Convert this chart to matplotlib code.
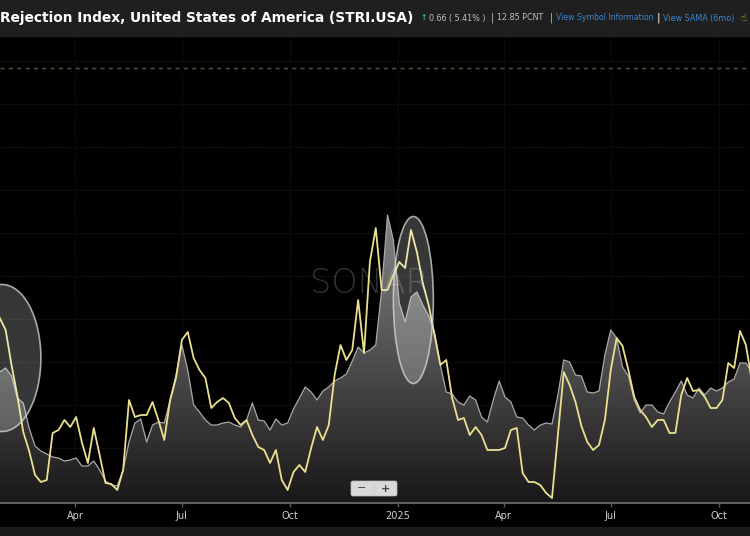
import numpy as np
import pandas as pd
import matplotlib
matplotlib.use('Agg')
import matplotlib.pyplot as plt
import matplotlib.dates as mdates
from matplotlib.patches import Ellipse, Rectangle, FancyBboxPatch
from matplotlib.colors import LinearSegmentedColormap

dates = pd.date_range('2024-01-28', periods=129, freq='5D')

stri = [18.5, 17.3, 13.8, 10.7, 7.1, 5.2, 2.8, 2.1, 2.3, 7.0,
        7.3, 8.3, 7.6, 8.6, 6.0, 4.0, 7.5, 4.8, 2.0, 1.9,
        1.3, 3.3, 10.3, 8.6, 8.8, 8.8, 10.1, 8.3, 6.3, 10.3,
        12.5, 16.3, 17.1, 14.5, 13.3, 12.5, 9.5, 10.1, 10.5, 10.0,
        8.5, 7.8, 8.3, 6.8, 5.6, 5.3, 4.0, 5.3, 2.3, 1.3,
        3.1, 3.8, 3.1, 5.5, 7.6, 6.3, 7.8, 12.8, 15.8, 14.3,
        15.3, 20.3, 15.0, 24.1, 27.5, 21.3, 21.3, 22.8, 24.1, 23.5,
        27.3, 25.1, 22.0, 19.8, 16.8, 13.8, 14.3, 10.5, 8.3, 8.5,
        6.8, 7.6, 6.8, 5.3, 5.3, 5.3, 5.5, 7.3, 7.5, 3.0,
        2.1, 2.1, 1.8, 1.0, 0.5, 6.8, 13.1, 11.8, 10.1, 7.7,
        6.1, 5.3, 5.8, 8.3, 13.3, 16.5, 15.7, 13.3, 10.6, 9.3,
        8.6, 7.6, 8.3, 8.3, 7.0, 7.0, 10.8, 12.5, 11.2, 11.3,
        10.6, 9.5, 9.5, 10.3, 14.0, 13.5, 17.2, 15.8, 12.3]

sama = [13.1, 13.5, 12.7, 10.5, 10.0, 7.5, 5.7, 5.2, 4.9, 4.6,
        4.5, 4.2, 4.3, 4.5, 3.7, 3.7, 4.2, 3.3, 2.2, 1.8,
        1.7, 3.3, 6.1, 8.0, 8.4, 6.1, 7.8, 8.1, 8.0, 10.3,
        12.8, 15.8, 13.3, 9.8, 9.1, 8.3, 7.8, 7.8, 8.0, 8.1,
        7.8, 7.6, 8.3, 10.0, 8.3, 8.2, 7.3, 8.4, 7.8, 8.0,
        9.4, 10.5, 11.6, 11.1, 10.3, 11.2, 11.6, 12.2, 12.5, 12.9,
        14.2, 15.6, 15.0, 15.3, 15.8, 21.3, 28.8, 26.3, 20.0, 18.1,
        20.6, 21.1, 19.8, 18.7, 17.1, 13.8, 11.1, 10.9, 10.1, 9.8,
        10.7, 10.3, 8.6, 8.1, 10.3, 12.2, 10.6, 10.1, 8.6, 8.5,
        7.8, 7.3, 7.8, 8.0, 7.9, 10.8, 14.3, 14.1, 12.8, 12.7,
        11.1, 11.0, 11.2, 14.8, 17.3, 16.5, 13.6, 12.7, 10.3, 9.0,
        9.8, 9.8, 9.1, 8.9, 10.1, 11.1, 12.2, 10.8, 10.5, 11.5,
        10.8, 11.5, 11.2, 11.5, 12.1, 12.4, 14.0, 14.0, 13.1]

tick_dates = ['2024-04-01', '2024-07-01', '2024-10-01', '2025-01-01',
              '2025-04-01', '2025-07-01', '2025-10-01']
tick_labels = ['Apr', 'Jul', 'Oct', '2025', 'Apr', 'Jul', 'Oct']

# markierte Bereiche: (Mitte Datum, Mitte Wert, Breite Tage, Höhe)
highlights = [('2024-01-30', 14.5, 66, 14.7),
              ('2025-01-14', 20.3, 34, 16.7)]

x_start = pd.Timestamp('2024-01-01') + pd.Timedelta(days=27.2)
x_end = pd.Timestamp('2024-01-01') + pd.Timedelta(days=665.5)

fig = plt.figure(figsize=(7.5, 5.36), dpi=100, facecolor='black')
ax = fig.add_axes([0, 33 / 536, 1, 467 / 536])
ax.set_facecolor('black')

# Gitter
for lvl in np.arange(1.2, 46, 4.3):
    ax.axhline(lvl, color='#2a2a2a', lw=0.6, ls=(0, (1, 2)), zorder=0)
ax.axhline(43.5, color='#4e5a3c', lw=1.0, ls=(0, (3, 3)), zorder=0)
for d in tick_dates:
    ax.axvline(pd.Timestamp(d), color='#2a2a2a', lw=0.6, ls=(0, (1, 2)), zorder=0)

# Wasserzeichen
ax.text(0.493, 0.47, 'SONAR', transform=ax.transAxes,
        ha='center', va='center', fontsize=24, color='white', alpha=0.2,
        fontweight='light', family='DejaVu Sans', zorder=6)

# graue Fläche mit Verlauf
x0, x1 = mdates.date2num(x_start), mdates.date2num(x_end)
grad = np.linspace(0, 1, 256).reshape(-1, 1)
cmap = LinearSegmentedColormap.from_list('g', ['#181818', '#8a8a8a'])
im = ax.imshow(grad, extent=[x0, x1, 0, 30], origin='lower', cmap=cmap,
               aspect='auto', zorder=1)
poly = ax.fill_between(dates, sama, 0, facecolor='none', edgecolor='none')
im.set_clip_path(poly.get_paths()[0], transform=ax.transData)
ax.plot(dates, sama, color='#a8a8a8', lw=0.9, zorder=2)

# gelbe Linie
ax.plot(dates, stri, color='#ebe08f', lw=1.3, zorder=3)

for d, v, w, h in highlights:
    c = mdates.date2num(pd.Timestamp(d))
    ax.add_patch(Ellipse((c, v), w, h, facecolor=(1, 1, 1, 0.22),
                         edgecolor=(0.85, 0.85, 0.85, 0.75), lw=1.2, zorder=5))

ax.set_xlim(x_start, x_end)
ax.set_ylim(0, 46.7)
ax.set_xticks([pd.Timestamp(d) for d in tick_dates])
ax.set_xticklabels(tick_labels)
ax.set_yticks([])
ax.tick_params(axis='x', colors='#5a5a5a', length=3, width=1, pad=3,
               labelcolor='#cfcfcf', labelsize=7)
for s in ['top', 'left', 'right']:
    ax.spines[s].set_visible(False)
ax.spines['bottom'].set_color('#5f5f5f')
ax.spines['bottom'].set_linewidth(1.5)

# Oberfläche (Kopfzeile, Zoom-Knöpfe) in Pixelkoordinaten
ui = fig.add_axes([0, 0, 1, 1], facecolor='none')
ui.set_xlim(0, 750)
ui.set_ylim(536, 0)
ui.axis('off')
ui.add_patch(Rectangle((0, 0), 750, 36, color='#1f1f1f', zorder=1))
ui.add_patch(Rectangle((0, 527), 750, 9, color='#1b1b1b', zorder=1))

ui.text(0, 18, 'Rejection Index, United States of America (STRI.USA)', color='white',
        fontsize=9.9, fontweight='bold', va='center', ha='left', zorder=2)
ui.text(421, 18, '↑', color='#39c06f', fontsize=5.5, fontweight='bold', va='center', zorder=2)
ui.text(429, 18, '0.66 ( 5.41% )', color='#bdbdbd', fontsize=5.8, va='center', zorder=2)
ui.text(491, 18, '|', color='#bdbdbd', fontsize=7, va='center', zorder=2)
ui.text(497, 18, '12.85 PCNT', color='#bdbdbd', fontsize=5.8, va='center', zorder=2)
ui.text(550, 18, '|', color='#bdbdbd', fontsize=7, va='center', zorder=2)
ui.text(556, 18, 'View Symbol Information', color='#3a86d0', fontsize=5.6, va='center', zorder=2)
ui.text(657, 18, '|', color='white', fontsize=8, va='center', zorder=2)
ui.text(663, 18, 'View SAMA (6mo)', color='#3a86d0', fontsize=5.8, va='center', zorder=2)
ui.text(740, 18, '☝', color='#e8c020', fontsize=7, va='center', zorder=2)

ui.add_patch(FancyBboxPatch((351, 481), 46, 15, boxstyle='round,pad=0,rounding_size=2',
                            facecolor='#d9d9d9', edgecolor='#bbbbbb', lw=0.5, zorder=2))
ui.plot([374, 374], [483, 494], color='#aaaaaa', lw=0.5, ls=':', zorder=3)
ui.text(362, 488.5, '−', color='#444444', fontsize=8, ha='center', va='center', zorder=3)
ui.text(386, 488.5, '+', color='#444444', fontsize=8, ha='center', va='center',
        fontweight='bold', zorder=3)

fig.savefig('out.png', dpi=100, facecolor='black')
